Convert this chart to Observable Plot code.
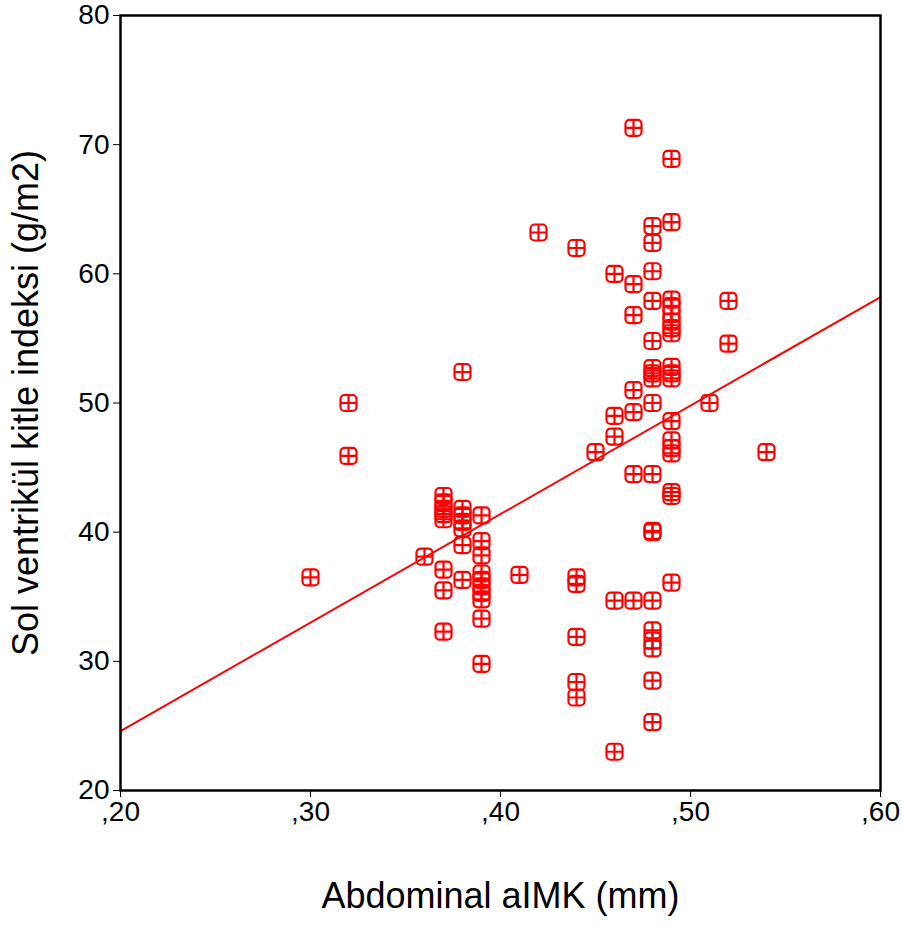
<!DOCTYPE html>
<html>
<head>
<meta charset="utf-8">
<script src="https://cdn.jsdelivr.net/npm/d3@7"></script>
<script src="https://cdn.jsdelivr.net/npm/@observablehq/plot@0.6"></script>
<style>
  html, body { margin: 0; padding: 0; background: #fff; }
  #chart { width: 902px; height: 930px; }
</style>
</head>
<body>
<div id="chart"></div>
<script>
// Abdominal aIMK (mm) values, one per subject
const imt = [
  0.30, 0.32, 0.32, 0.36,
  0.37, 0.37, 0.37, 0.37, 0.37, 0.37, 0.37, 0.37,
  0.38, 0.38, 0.38, 0.38, 0.38, 0.38, 0.38,
  0.39, 0.39, 0.39, 0.39, 0.39, 0.39, 0.39, 0.39, 0.39, 0.39,
  0.41, 0.42,
  0.44, 0.44, 0.44, 0.44, 0.44, 0.44,
  0.45,
  0.46, 0.46, 0.46, 0.46, 0.46,
  0.47, 0.47, 0.47, 0.47, 0.47, 0.47, 0.47,
  0.48, 0.48, 0.48, 0.48, 0.48, 0.48, 0.48, 0.48, 0.48, 0.48, 0.48, 0.48, 0.48, 0.48, 0.48, 0.48, 0.48, 0.48,
  0.49, 0.49, 0.49, 0.49, 0.49, 0.49, 0.49, 0.49, 0.49, 0.49, 0.49, 0.49, 0.49, 0.49, 0.49, 0.49, 0.49, 0.49,
  0.51, 0.52, 0.52, 0.54
];
// Sol ventrikül kitle indeksi (g/m2), same order
const lvmi = [
  36.5, 50.0, 45.9, 38.1,
  42.8, 42.3, 41.8, 41.4, 41.0, 37.1, 35.5, 32.3,
  41.8, 41.3, 40.8, 40.3, 39.0, 52.4, 36.3,
  41.3, 39.3, 38.2, 36.8, 36.3, 35.8, 35.3, 34.8, 33.3, 29.8,
  36.7, 63.2,
  62.0, 36.5, 36.0, 31.9, 28.4, 27.2,
  46.2,
  60.0, 49.0, 47.4, 34.7, 23.0,
  71.3, 59.2, 56.8, 51.0, 49.3, 44.5, 34.7,
  63.7, 62.4, 60.2, 57.9, 54.8, 52.7, 52.3, 51.9, 50.0, 44.5, 40.1, 34.7, 32.4, 31.6, 31.0, 28.5, 25.3, 40.0,
  68.9, 64.0, 58.0, 57.5, 56.9, 56.3, 55.8, 55.4, 52.8, 52.3, 51.9, 48.6, 47.1, 46.5, 46.1, 43.1, 42.8, 36.1,
  50.0, 57.9, 54.6, 46.2
];
// fitted line (as drawn in the reference), at the two ends of the x axis
const fitX = [0.20, 0.60];
const fitY = [24.6, 58.2];

const xTicks = [0.20, 0.30, 0.40, 0.50, 0.60];
const xTickLabels = [",20", ",30", ",40", ",50", ",60"];
const yTicks = [20, 30, 40, 50, 60, 70, 80];
const xTitle = "Abdominal aIMK (mm)";
const yTitle = "Sol ventrikül kitle indeksi (g/m2)";

const points = imt.map((x, i) => ({x, y: lvmi[i]}));
const fit = fitX.map((x, i) => ({x, y: fitY[i]}));

// rounded square with a cross inside
const boxCross = {
  draw(ctx, size) {
    const h = Math.sqrt(size / Math.PI);
    const r = 4;
    ctx.moveTo(-h + r, -h);
    ctx.lineTo(h - r, -h);
    ctx.arcTo(h, -h, h, -h + r, r);
    ctx.lineTo(h, h - r);
    ctx.arcTo(h, h, h - r, h, r);
    ctx.lineTo(-h + r, h);
    ctx.arcTo(-h, h, -h, h - r, r);
    ctx.lineTo(-h, -h + r);
    ctx.arcTo(-h, -h, -h + r, -h, r);
    ctx.closePath();
    ctx.moveTo(-h, 0); ctx.lineTo(h, 0);
    ctx.moveTo(0, -h); ctx.lineTo(0, h);
  }
};

const chart = Plot.plot({
  width: 902,
  height: 930,
  marginLeft: 120,
  marginRight: 22,
  marginTop: 15,
  marginBottom: 140,
  style: {fontFamily: "Liberation Sans, Arial, sans-serif", fontSize: "25px", color: "#000", background: "#fff"},
  x: {domain: [0.2, 0.6]},
  y: {domain: [20, 80]},
  marks: [
    Plot.line(fit, {x: "x", y: "y", stroke: "#ff0000", strokeWidth: 2}),
    Plot.dot(points, {x: "x", y: "y", r: 8, symbol: boxCross, stroke: "#ff0000", strokeWidth: 2.2, fill: "none"}),
    Plot.frame({stroke: "#000", strokeWidth: 2.5}),
    Plot.axisX({ticks: xTicks, tickFormat: (d, i) => xTickLabels[i], tickSize: 7, tickPadding: 4, tickWidth: 2, fontSize: 28, label: null}),
    Plot.axisY({ticks: yTicks, tickSize: 7, tickPadding: 4, tickWidth: 2, fontSize: 28, label: null}),
    Plot.text([xTitle], {frameAnchor: "bottom", dy: 117, text: d => d, fontSize: 36, fill: "#000"}),
    Plot.text([yTitle], {frameAnchor: "left", dx: -94, rotate: -90, textAnchor: "middle", text: d => d, fontSize: 36, fill: "#000"})
  ]
});
document.getElementById("chart").appendChild(chart);
</script>
</body>
</html>
